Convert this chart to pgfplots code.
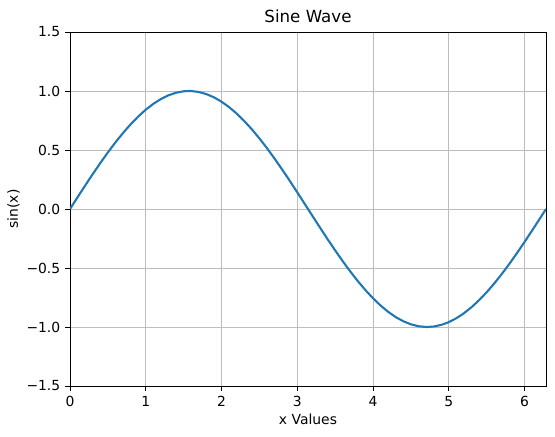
\documentclass[border=0pt]{standalone}
\usepackage{pgfplots}
\pgfplotsset{compat=1.18}
\usepackage{fontspec}
\setmainfont{DejaVu Sans}
\definecolor{mplblue}{HTML}{1F77B4}
\definecolor{mplgrid}{HTML}{BDBDBD}
\begin{document}
\begin{tikzpicture}
\begin{axis}[
  at={(0,0)}, anchor=south west,
  scale only axis, width=342.72pt, height=254.88pt,
  xmin=0, xmax=6.283185, ymin=-1.5, ymax=1.5,
  xtick={0,1,2,3,4,5,6},
  xticklabels={0,1,2,3,4,5,6},
  ytick={-1.5,-1,-0.5,0,0.5,1,1.5},
  yticklabels={−1.5,−1.0,−0.5,0.0,0.5,1.0,1.5},
  grid=major,
  major grid style={color=mplgrid, line width=0.6pt},
  axis line style={line width=0.7pt, black},
  tick align=outside, major tick length=3.5pt,
  tick style={line width=0.7pt, black},
  xtick pos=bottom, ytick pos=left,
  ticklabel style={font=\fontsize{10}{12}\selectfont},
  xticklabel style={yshift=-0.5pt},
  title={Sine Wave},
  title style={font=\fontsize{12}{14}\selectfont, yshift=-3pt},
  xlabel={x Values}, ylabel={sin(x)},
  label style={font=\fontsize{10}{12}\selectfont},
  xlabel style={yshift=2pt},
  ylabel style={yshift=-2pt},
]
\addplot[mplblue, line width=1.5pt, line join=round] coordinates {
(0,0) (0.1,0.0998) (0.2,0.1987) (0.3,0.2955) (0.4,0.3894) (0.5,0.4794)
(0.6,0.5646) (0.7,0.6442) (0.8,0.7174) (0.9,0.7833) (1.0,0.8415)
(1.1,0.8912) (1.2,0.9320) (1.3,0.9636) (1.4,0.9854) (1.5,0.9975)
(1.5708,1.0) (1.6,0.9996) (1.7,0.9917) (1.8,0.9738) (1.9,0.9463)
(2.0,0.9093) (2.1,0.8632) (2.2,0.8085) (2.3,0.7457) (2.4,0.6755)
(2.5,0.5985) (2.6,0.5155) (2.7,0.4274) (2.8,0.3350) (2.9,0.2392)
(3.0,0.1411) (3.1,0.0416) (3.1416,0) (3.2,-0.0584) (3.3,-0.1577)
(3.4,-0.2555) (3.5,-0.3508) (3.6,-0.4425) (3.7,-0.5298) (3.8,-0.6119)
(3.9,-0.6878) (4.0,-0.7568) (4.1,-0.8183) (4.2,-0.8716) (4.3,-0.9162)
(4.4,-0.9516) (4.5,-0.9775) (4.6,-0.9937) (4.7,-0.9999) (4.7124,-1.0)
(4.8,-0.9962) (4.9,-0.9825) (5.0,-0.9589) (5.1,-0.9258) (5.2,-0.8835)
(5.3,-0.8323) (5.4,-0.7728) (5.5,-0.7055) (5.6,-0.6313) (5.7,-0.5507)
(5.8,-0.4646) (5.9,-0.3739) (6.0,-0.2794) (6.1,-0.1822) (6.2,-0.0831)
(6.283185,0)
};
\end{axis}
\pgfresetboundingbox
\path[use as bounding box] (-50.4pt,-36.72pt) rectangle (349.2pt,277.92pt);
\end{tikzpicture}
\end{document}
